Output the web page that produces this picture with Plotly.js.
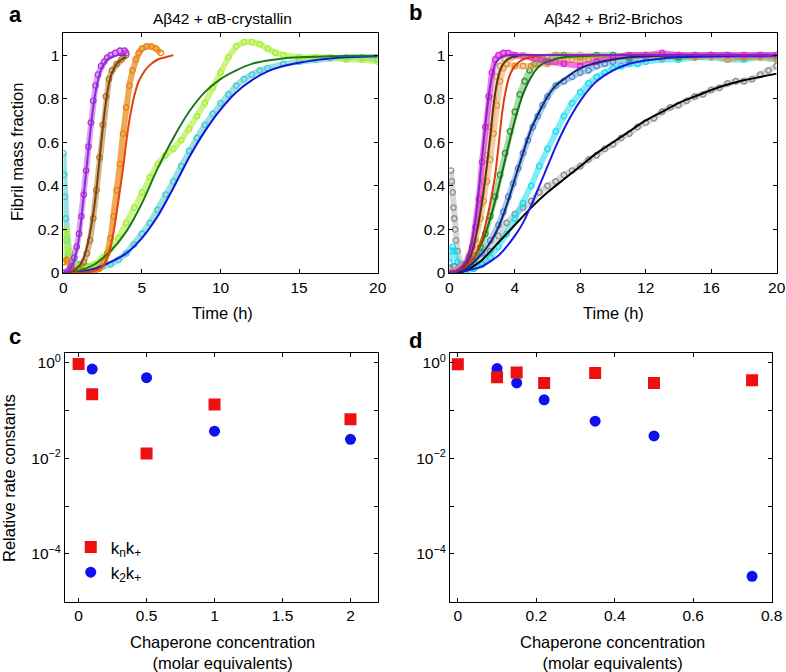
<!DOCTYPE html>
<html><head><meta charset="utf-8">
<script src="https://cdn.plot.ly/plotly-3.0.1.min.js"></script>
<style>html,body{margin:0;padding:0;background:#fff}#chart{width:786px;height:672px}</style>
</head><body><div id="chart"></div>
<script>
// ---------- Panel a : Abeta42 + alphaB-crystallin ----------
const aPurpleDataT = [0,0.3,0.5,0.7,0.85,1.0,1.15,1.3,1.45,1.6,1.75,1.9,2.05,2.2,2.4,2.6,2.8,3.0,3.3,3.6,3.9,4.0];
const aPurpleDataF = [0.0,0.01,0.03,0.07,0.12,0.18,0.26,0.36,0.47,0.58,0.69,0.79,0.86,0.91,0.95,0.97,0.99,1.0,1.01,1.02,1.02,1.01];
const aPurpleFitT = [0,0.3,0.6,0.9,1.1,1.3,1.5,1.7,1.9,2.1,2.3,2.5,2.8,3.1,3.5,4.0];
const aPurpleFitF = [0,0.01,0.04,0.12,0.22,0.36,0.50,0.64,0.76,0.85,0.91,0.95,0.98,0.99,1.0,1.0];
const aBrownDataT = [0,0.5,1,1.3,1.5,1.7,1.9,2.1,2.3,2.5,2.7,2.9,3.1,3.4,3.7,4.0];
const aBrownDataF = [0.0,0.0,0.02,0.05,0.09,0.15,0.25,0.38,0.53,0.68,0.81,0.89,0.93,0.96,0.98,1.0];
const aBrownFitT = [0,0.5,1,1.3,1.6,1.9,2.1,2.3,2.5,2.7,2.9,3.1,3.4,3.7,4.0];
const aBrownFitF = [0,0.005,0.03,0.07,0.15,0.27,0.38,0.52,0.66,0.78,0.87,0.92,0.96,0.98,0.99];
const aOrangeDataT = [0,0.2,0.5,1,1.5,2,2.3,2.6,2.8,3.0,3.2,3.4,3.6,3.8,4.0,4.2,4.4,4.6,4.8,5.0,5.3,5.6,5.9,6.2];
const aOrangeDataF = [0.05,0.06,0.02,0.0,0.0,0.01,0.02,0.05,0.09,0.16,0.26,0.38,0.50,0.64,0.76,0.86,0.93,0.98,1.01,1.03,1.04,1.04,1.03,1.01];
const aRedFitT = [0,1,2,2.5,2.8,3.0,3.2,3.4,3.6,3.8,4.0,4.2,4.5,4.8,5.2,5.6,6.0,6.5,7.0];
const aRedFitF = [0,0.0,0.01,0.03,0.07,0.12,0.19,0.28,0.38,0.48,0.60,0.70,0.81,0.88,0.93,0.96,0.98,0.99,1.0];
const aLimeDataT = [0,0.1,0.2,0.4,0.7,1,1.5,2,2.5,3,3.5,4,4.5,5,5.5,6,6.5,7,7.5,8,8.5,9,9.5,10,10.5,11,11.5,12,12.5,13,13.5,14,15,16,17,18,19,20];
const aLimeDataF = [0.05,0.18,0.2,0.1,0.04,0.03,0.03,0.04,0.07,0.11,0.16,0.23,0.30,0.37,0.44,0.50,0.54,0.57,0.61,0.66,0.72,0.78,0.85,0.92,0.99,1.04,1.06,1.06,1.05,1.03,1.01,1.0,0.99,0.99,0.99,0.98,0.98,0.97];
const aGreenFitT = [0,1,2,3,4,5,6,7,8,9,10,11,12,13,14,15,16,18,20];
const aGreenFitF = [0,0.01,0.04,0.10,0.19,0.32,0.48,0.62,0.74,0.83,0.89,0.93,0.96,0.975,0.985,0.99,0.993,0.996,0.998];
const aCyanDataT = [0,0.05,0.1,0.15,0.2,0.3,0.5,1,1.5,2,2.5,3,3.5,4,4.5,5,5.5,6,6.5,7,7.5,8,8.5,9,9.5,10,10.5,11,11.5,12,12.5,13,14,15,16,17,18,19,20];
const aCyanDataF = [0.55,0.45,0.35,0.25,0.15,0.08,0.05,0.04,0.03,0.03,0.03,0.04,0.06,0.09,0.13,0.18,0.23,0.29,0.36,0.42,0.49,0.56,0.62,0.68,0.73,0.78,0.82,0.86,0.89,0.91,0.93,0.94,0.96,0.97,0.98,0.985,0.99,0.99,0.98];
const aBlueFitT = [0,1,2,3,4,5,6,7,8,9,10,11,12,13,14,15,16,17,18,19,20];
const aBlueFitF = [0,0.005,0.02,0.05,0.09,0.16,0.26,0.39,0.53,0.65,0.75,0.83,0.885,0.925,0.95,0.965,0.977,0.985,0.99,0.993,0.995];

// ---------- Panel b : Abeta42 + Bri2-Brichos ----------
const bMagentaDataT = [0,0.2,0.4,0.6,0.8,1.0,1.2,1.4,1.6,1.8,2.0,2.2,2.4,2.6,2.8,3.0,3.3,3.6,4,5,6,7,8,9,10,11,12,13,14,15,16,17,18,19,20];
const bMagentaDataF = [0.0,0.0,0.0,0.01,0.02,0.04,0.07,0.12,0.21,0.34,0.51,0.67,0.81,0.92,0.98,1.0,1.01,1.01,1.0,0.99,0.97,0.96,0.95,0.97,0.99,1.0,1.0,1.01,1.0,1.0,1.0,1.0,1.0,1.0,1.0];
const bPurpleFitT = [0,0.5,1,1.3,1.6,1.8,2.0,2.2,2.4,2.6,2.8,3.0,3.3,3.7,4.5,6,10,20];
const bPurpleFitF = [0,0.01,0.05,0.12,0.25,0.38,0.53,0.68,0.81,0.90,0.96,0.98,0.995,1.0,1.0,1.0,1.0,1.0];
const bTanDataT = [0,0.3,0.6,0.9,1.2,1.5,1.7,1.9,2.1,2.3,2.5,2.7,2.9,3.1,3.4,3.8,4.5,5.5,6.5,8,10,12,14,16,18,20];
const bTanDataF = [0,0.01,0.02,0.04,0.08,0.15,0.22,0.31,0.42,0.54,0.67,0.80,0.90,0.95,0.98,0.99,1.0,0.99,1.0,1.0,0.99,1.0,1.0,0.99,1.0,1.0];
const bBrownFitT = [0,0.5,1,1.3,1.6,1.9,2.1,2.3,2.5,2.7,2.9,3.1,3.4,3.8,4.5,6,10,20];
const bBrownFitF = [0,0.01,0.04,0.08,0.16,0.28,0.38,0.50,0.63,0.77,0.87,0.93,0.97,0.99,1.0,1.0,1.0,1.0];
const bOrangeDataT = [0,0.3,0.6,1,1.3,1.6,1.9,2.1,2.3,2.5,2.7,2.9,3.1,3.3,3.5,4,4.5,5,5.5,6,6.5,7,7.5,8,8.5,9,10,11,12,13,14,15,16,17,18,19,20];
const bOrangeDataF = [0.0,0.01,0.02,0.04,0.08,0.15,0.25,0.33,0.42,0.52,0.64,0.77,0.88,0.94,0.96,0.95,0.95,0.95,0.96,0.96,0.97,0.97,0.98,0.97,0.98,0.99,0.99,1.0,1.0,0.99,1.0,0.99,1.0,0.98,0.99,0.99,0.98];
const bRedFitT = [0,0.5,1,1.5,2,2.3,2.6,2.8,3.0,3.2,3.4,3.7,4.0,4.5,5,6,8,12,20];
const bRedFitF = [0,0.01,0.03,0.07,0.16,0.25,0.36,0.45,0.58,0.72,0.82,0.91,0.95,0.98,0.99,1.0,1.0,1.0,1.0];
const bGreenDataT = [0,0.3,0.6,1,1.3,1.6,1.9,2.2,2.5,2.8,3.1,3.4,3.7,4.0,4.3,4.6,4.9,5.2,5.6,6,6.5,7,8,9,10,11,12,13,14,15,16,17,18,19,20];
const bGreenDataF = [0.0,0.01,0.02,0.03,0.05,0.08,0.12,0.18,0.26,0.35,0.45,0.55,0.65,0.74,0.82,0.88,0.93,0.96,0.98,0.99,1.0,1.0,0.99,1.0,1.0,0.99,1.0,1.0,0.99,1.0,1.0,1.0,0.99,1.0,0.99];
const bGreenFitT = [0,0.5,1,1.5,2,2.5,3,3.5,4,4.5,5,5.5,6,7,8,10,14,20];
const bGreenFitF = [0,0.01,0.03,0.07,0.14,0.25,0.39,0.55,0.70,0.82,0.90,0.95,0.97,0.99,0.995,1.0,1.0,1.0];
const bSteelDataT = [0,0.3,0.6,1,1.5,2,2.5,3,3.3,3.6,3.9,4.2,4.5,4.8,5.1,5.4,5.7,6,6.5,7,7.5,8,8.5,9,9.5,10,11,12,13,14,15,16,17,18,19,20];
const bSteelDataF = [0.02,0.03,0.02,0.02,0.05,0.09,0.15,0.22,0.28,0.35,0.41,0.48,0.55,0.61,0.67,0.72,0.77,0.81,0.86,0.88,0.90,0.92,0.93,0.95,0.96,0.97,0.98,0.99,0.99,1.0,0.99,1.0,1.0,0.99,1.0,1.0];
const bNavyFitT = [0,0.5,1,1.5,2,2.5,3,3.5,4,4.5,5,5.5,6,6.5,7,8,9,10,11,12,14,16,20];
const bNavyFitF = [0,0.005,0.02,0.05,0.09,0.14,0.21,0.31,0.43,0.55,0.66,0.74,0.81,0.86,0.89,0.94,0.965,0.98,0.99,0.995,0.998,1.0,1.0];
const bCyanDataT = [0,0.1,0.2,0.3,0.5,0.8,1,1.5,2,2.5,3,3.5,4,4.5,5,5.5,6,6.5,7,7.5,8,8.5,9,9.5,10,10.5,11,11.5,12,13,14,15,16,17,18,19,20];
const bCyanDataF = [0.05,0.1,0.12,0.1,0.05,0.02,0.01,0.02,0.04,0.07,0.12,0.18,0.25,0.32,0.40,0.49,0.57,0.65,0.72,0.78,0.83,0.87,0.90,0.92,0.94,0.95,0.96,0.96,0.97,0.98,0.98,0.99,0.99,0.98,0.98,0.99,0.98];
const bBlueFitT = [0,1,2,3,4,4.5,5,5.5,6,6.5,7,7.5,8,8.5,9,10,11,12,13,14,16,18,20];
const bBlueFitF = [0,0.01,0.03,0.08,0.17,0.23,0.31,0.40,0.49,0.58,0.66,0.73,0.79,0.84,0.88,0.93,0.96,0.975,0.985,0.99,0.995,0.997,0.998];
const bGrayDataT = [0.1,0.15,0.2,0.25,0.3,0.35,0.4,0.5,0.7,1,1.5,2,2.5,3,3.5,4,4.5,5,5.5,6,6.5,7,7.5,8,8.5,9,9.5,10,10.5,11,11.5,12,12.5,13,13.5,14,14.5,15,15.5,16,16.5,17,17.5,18,18.5,19,19.5,20];
const bGrayDataF = [0.47,0.42,0.37,0.30,0.25,0.2,0.15,0.1,0.04,0.02,0.02,0.04,0.10,0.17,0.23,0.27,0.30,0.33,0.37,0.40,0.42,0.45,0.47,0.49,0.52,0.54,0.57,0.59,0.62,0.64,0.67,0.69,0.71,0.74,0.76,0.77,0.79,0.81,0.82,0.84,0.85,0.87,0.88,0.88,0.89,0.91,0.93,0.95];
const bBlackFitT = [0,1,2,3,4,5,6,7,8,9,10,11,12,13,14,15,16,17,18,19,20];
const bBlackFitF = [0,0.01,0.06,0.14,0.22,0.30,0.37,0.43,0.49,0.55,0.60,0.65,0.70,0.74,0.78,0.81,0.84,0.865,0.885,0.90,0.915];

// ---------- Panels c, d : relative rate constants ----------
const cConcKn = [0, 0.1, 0.5, 1, 2];
const cKnKp   = [0.95, 0.22, 0.0127, 0.135, 0.066];
const cConcK2 = [0.1, 0.5, 1, 2];
const cK2Kp   = [0.74, 0.49, 0.037, 0.025];
const dConcKn = [0, 0.1, 0.15, 0.22, 0.35, 0.5, 0.75];
const dKnKp   = [0.93, 0.50, 0.63, 0.38, 0.61, 0.38, 0.43];
const dConcK2 = [0.1, 0.15, 0.22, 0.35, 0.5, 0.75];
const dK2Kp   = [0.76, 0.38, 0.168, 0.060, 0.0295, 3.4e-5];

const logTickVals = [1e-4, 1e-2, 1];
const logTickText = ['10<sup>\u22124</sup>', '10<sup>\u22122</sup>', '10<sup>0</sup>'];
const logMinorVals = [1e-5, 1e-3, 1e-1];
const legendNames = ['k<sub>n</sub>k<sub>+</sub>', 'k<sub>2</sub>k<sub>+</sub>'];

const FONT = 'Liberation Sans, Arial, sans-serif';
const TICK = 15.5, TITLE = 16.5;
const traces = [];
function dataTrace(x, y, color, band, xa, ya) {
  traces.push({x: x, y: y, xaxis: xa, yaxis: ya, type: 'scatter', mode: 'lines+markers',
    line: {color: band, width: 6}, marker: {symbol: 'circle-open', size: 5.5, color: color, line: {width: 1.3, color: color}},
    showlegend: false, hoverinfo: 'skip'});
}
function fitTrace(x, y, color, xa, ya) {
  traces.push({x: x, y: y, xaxis: xa, yaxis: ya, type: 'scatter', mode: 'lines',
    line: {color: color, width: 2, shape: 'spline', smoothing: 0.6}, showlegend: false, hoverinfo: 'skip'});
}
// panel a
dataTrace(aCyanDataT, aCyanDataF, '#45c9cc', 'rgba(69,201,204,0.55)', 'x', 'y');
dataTrace(aLimeDataT, aLimeDataF, '#a8ee34', 'rgba(168,238,52,0.6)', 'x', 'y');
dataTrace(aOrangeDataT, aOrangeDataF, '#e8840e', 'rgba(232,132,14,0.7)', 'x', 'y');
dataTrace(aBrownDataT, aBrownDataF, '#b07a2c', 'rgba(176,122,44,0.55)', 'x', 'y');
dataTrace(aPurpleDataT, aPurpleDataF, '#b42ee0', 'rgba(180,46,224,0.45)', 'x', 'y');
fitTrace(aBlueFitT, aBlueFitF, '#1414e0', 'x', 'y');
fitTrace(aGreenFitT, aGreenFitF, '#1c7a1c', 'x', 'y');
fitTrace(aRedFitT, aRedFitF, '#e2420c', 'x', 'y');
fitTrace(aBrownFitT, aBrownFitF, '#7a4210', 'x', 'y');
fitTrace(aPurpleFitT, aPurpleFitF, '#8a2cd8', 'x', 'y');
// panel b
dataTrace(bGrayDataT, bGrayDataF, '#8c8c8c', 'rgba(140,140,140,0.35)', 'x2', 'y2');
dataTrace(bCyanDataT, bCyanDataF, '#18dcef', 'rgba(24,220,239,0.55)', 'x2', 'y2');
dataTrace(bSteelDataT, bSteelDataF, '#4a8ccc', 'rgba(74,140,204,0.45)', 'x2', 'y2');
dataTrace(bGreenDataT, bGreenDataF, '#2a9a2a', 'rgba(42,154,42,0.4)', 'x2', 'y2');
dataTrace(bOrangeDataT, bOrangeDataF, '#ec9030', 'rgba(236,144,48,0.45)', 'x2', 'y2');
dataTrace(bTanDataT, bTanDataF, '#d4a266', 'rgba(212,162,102,0.4)', 'x2', 'y2');
dataTrace(bMagentaDataT, bMagentaDataF, '#e020e0', 'rgba(224,32,224,0.6)', 'x2', 'y2');
fitTrace(bBlackFitT, bBlackFitF, '#000000', 'x2', 'y2');
fitTrace(bBlueFitT, bBlueFitF, '#1a1ae6', 'x2', 'y2');
fitTrace(bNavyFitT, bNavyFitF, '#12287a', 'x2', 'y2');
fitTrace(bGreenFitT, bGreenFitF, '#157015', 'x2', 'y2');
fitTrace(bRedFitT, bRedFitF, '#e03a08', 'x2', 'y2');
fitTrace(bBrownFitT, bBrownFitF, '#5e3410', 'x2', 'y2');
fitTrace(bPurpleFitT, bPurpleFitF, '#8424c4', 'x2', 'y2');
// panel c
traces.push({x: cConcK2, y: cK2Kp, xaxis: 'x3', yaxis: 'y3', type: 'scatter', mode: 'markers', name: legendNames[1], legendrank: 2,
  marker: {symbol: 'circle', size: 11, color: '#1010ee'}, hoverinfo: 'skip'});
traces.push({x: cConcKn, y: cKnKp, xaxis: 'x3', yaxis: 'y3', type: 'scatter', mode: 'markers', name: legendNames[0], legendrank: 1,
  marker: {symbol: 'square', size: 12, color: '#ee1010'}, hoverinfo: 'skip'});
// panel d
traces.push({x: dConcK2, y: dK2Kp, xaxis: 'x4', yaxis: 'y4', type: 'scatter', mode: 'markers', showlegend: false,
  marker: {symbol: 'circle', size: 11, color: '#1010ee'}, hoverinfo: 'skip'});
traces.push({x: dConcKn, y: dKnKp, xaxis: 'x4', yaxis: 'y4', type: 'scatter', mode: 'markers', showlegend: false,
  marker: {symbol: 'square', size: 12, color: '#ee1010'}, hoverinfo: 'skip'});

function ax(extra) {
  return Object.assign({showline: true, linecolor: '#000', linewidth: 1, mirror: 'ticks', ticks: 'inside', ticklen: 4,
    tickcolor: '#000', tickwidth: 1, showgrid: false, zeroline: false, fixedrange: true,
    tickfont: {family: FONT, size: TICK, color: '#000'}}, extra);
}
function logAx(extra) {
  return ax(Object.assign({type: 'log', range: [-5, 0.2], tickmode: 'array', tickvals: logTickVals, ticktext: logTickText,
    minor: {tickmode: 'array', tickvals: logMinorVals, ticks: 'inside', ticklen: 4, tickcolor: '#000', tickwidth: 1, showgrid: false}}, extra));
}
const yDomTop = [0.5938, 0.9504];
const yDomBot = [0.1046, 0.4743];
function note(text, px, py, size, extra) {
  return Object.assign({text: text, x: px/786, y: 1 - py/672, xref: 'paper', yref: 'paper', showarrow: false,
    xanchor: 'center', yanchor: 'middle', font: {family: FONT, size: size, color: '#000'}}, extra || {});
}
const layout = {
  width: 786, height: 672, margin: {l: 0, r: 0, t: 0, b: 0},
  paper_bgcolor: '#fff', plot_bgcolor: '#fff', font: {family: FONT, color: '#000'},
  xaxis: ax({domain: [0.0806, 0.4805], range: [0, 20], dtick: 5, anchor: 'y'}),
  yaxis: ax({domain: yDomTop, range: [0, 1.1], tickvals: [0, 0.2, 0.4, 0.6, 0.8, 1], anchor: 'x'}),
  xaxis2: ax({domain: [0.5717, 0.9881], range: [0, 20], dtick: 4, anchor: 'y2'}),
  yaxis2: ax({domain: yDomTop, range: [0, 1.1], tickvals: [0, 0.2, 0.4, 0.6, 0.8, 1], anchor: 'x2'}),
  xaxis3: ax({domain: [0.0827, 0.4805], range: [-0.1, 2.2], dtick: 0.5, anchor: 'y3'}),
  yaxis3: logAx({domain: yDomBot, anchor: 'x3'}),
  xaxis4: ax({domain: [0.5725, 0.9818], range: [-0.02, 0.8], dtick: 0.2, anchor: 'y4'}),
  yaxis4: logAx({domain: yDomBot, anchor: 'x4'}),
  showlegend: true,
  legend: {x: 0.09, y: 0.212, xanchor: 'left', yanchor: 'top', bgcolor: 'rgba(0,0,0,0)', borderwidth: 0,
    font: {family: FONT, size: 17, color: '#000'}, tracegroupgap: 0, itemclick: false},
  annotations: [
    note('<b>a</b>', 15, 14, 22), note('<b>b</b>', 416, 12, 22),
    note('<b>c</b>', 15, 336, 22), note('<b>d</b>', 416, 340, 22),
    note('A\u03b242 + \u03b1B-crystallin', 222, 18, 15.5),
    note('A\u03b242 + Bri2-Brichos', 613, 18, 15.5),
    note('Time (h)', 222, 313, TITLE), note('Time (h)', 613, 313, TITLE),
    note('Fibril mass fraction', 17, 152, TITLE, {textangle: -90}),
    note('Relative rate constants', 9, 478, TITLE, {textangle: -90}),
    note('Chaperone concentration<br>(molar equivalents)', 222, 652, TITLE),
    note('Chaperone concentration<br>(molar equivalents)', 612, 652, TITLE)
  ]
};
Plotly.newPlot('chart', traces, layout, {staticPlot: true, displayModeBar: false});
</script>
</body></html>
